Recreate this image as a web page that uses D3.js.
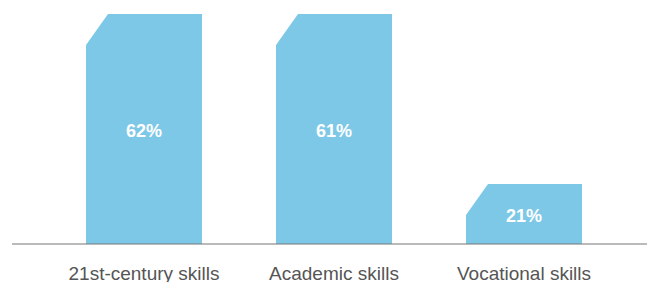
<!DOCTYPE html>
<html>
<head>
<meta charset="utf-8">
<script src="https://cdn.jsdelivr.net/npm/d3@7"></script>
<style>
  body { margin: 0; background: #fff; }
  svg { display: block; font-family: "Liberation Sans", Arial, Helvetica, sans-serif; }
</style>
</head>
<body>
<div id="chart"></div>
<script>
const width = 647, height = 282;

const categories = ["21st-century skills", "Academic skills", "Vocational skills"];
const values = [62, 61, 21];
const valueLabels = ["62%", "61%", "21%"];

const baseY = 244;
const cutW = 22, cutH = 31;

const svg = d3.select("#chart")
    .append("svg")
    .attr("width", width)
    .attr("height", height);

const x = d3.scaleBand()
    .domain(categories)
    .range([86, 582])
    .paddingInner(0.3895)
    .paddingOuter(0);

// stylised height scale: tall bars are capped at the top of the panel
const y = d3.scaleLinear()
    .domain([6.85, 61])
    .range([baseY, 14])
    .clamp(true);

const data = categories.map((c, i) => ({ cat: c, value: values[i], label: valueLabels[i] }));

// bars with a clipped top-left corner
svg.selectAll(".bar")
    .data(data)
    .join("path")
    .attr("class", "bar")
    .attr("d", d => {
        const x0 = x(d.cat), x1 = x0 + x.bandwidth(), top = y(d.value);
        return `M${x0},${baseY}L${x0},${top + cutH}L${x0 + cutW},${top}L${x1},${top}L${x1},${baseY}Z`;
    })
    .style("fill", "#7ec8e7");

// value labels
svg.selectAll(".val")
    .data(data)
    .join("text")
    .attr("class", "val")
    .attr("x", d => x(d.cat) + x.bandwidth() / 2)
    .attr("y", d => (y(d.value) + baseY) / 2 + 8)
    .attr("text-anchor", "middle")
    .style("fill", "#fff")
    .style("font-weight", "bold")
    .style("font-size", "18px")
    .text(d => d.label);

// baseline
svg.append("line")
    .attr("x1", 12)
    .attr("x2", width)
    .attr("y1", baseY)
    .attr("y2", baseY)
    .style("stroke", "#777")
    .style("stroke-width", 1.2);

// category axis
const xAxis = svg.append("g")
    .attr("transform", `translate(0,${baseY})`)
    .call(d3.axisBottom(x).tickSize(0));

xAxis.select(".domain").remove();
xAxis.selectAll("text")
    .attr("y", 36)
    .attr("dy", 0)
    .style("font-family", "\"Liberation Sans\", Arial, sans-serif")
    .style("font-size", "19px")
    .style("fill", "#555");
</script>
</body>
</html>
